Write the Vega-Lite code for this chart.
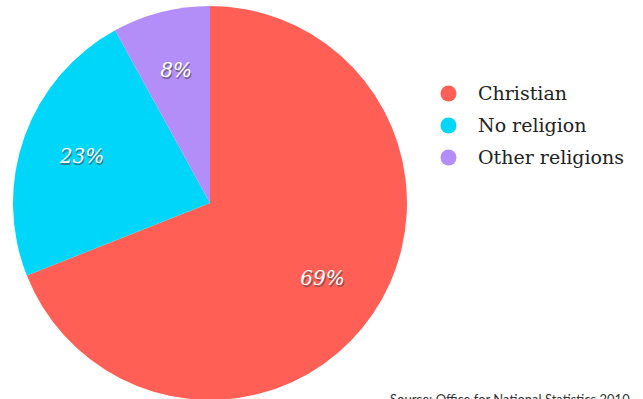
{
  "$schema": "https://vega.github.io/schema/vega-lite/v6.json",
  "width": 420,
  "height": 406,
  "padding": 0,
  "background": "white",
  "view": {"stroke": null},
  "title": {
    "text": "Source: Office for National Statistics 2010",
    "orient": "bottom",
    "anchor": "start",
    "dx": 390,
    "offset": -12,
    "font": "Lato",
    "fontSize": 13,
    "fontWeight": "normal",
    "color": "#333"
  },
  "data": {
    "values": [
      {"religion": "Christian", "share": 69, "label": "69%"},
      {"religion": "No religion", "share": 23, "label": "23%"},
      {"religion": "Other religions", "share": 8, "label": "8%"}
    ]
  },
  "encoding": {
    "theta": {"field": "share", "type": "quantitative", "stack": true},
    "order": {"field": "share", "type": "quantitative", "sort": "descending"}
  },
  "layer": [
    {
      "mark": {"type": "arc", "outerRadius": 197},
      "encoding": {
        "color": {
          "field": "religion",
          "type": "nominal",
          "scale": {
            "domain": ["Christian", "No religion", "Other religions"],
            "range": ["#FF5F55", "#00D5FA", "#B48EF8"]
          },
          "legend": {
            "title": null,
            "orient": "none",
            "legendX": 439,
            "legendY": 84,
            "symbolType": "circle",
            "symbolSize": 256,
            "symbolStrokeWidth": 0,
            "labelFont": "DejaVu Serif",
            "labelFontSize": 19,
            "labelColor": "#222",
            "labelOffset": 20,
            "rowPadding": 12,
            "labelLimit": 300
          }
        }
      }
    },
    {
      "mark": {"type": "text", "radius": 136, "font": "DejaVu Serif", "fontStyle": "italic", "fontSize": 20, "fill": "#444", "opacity": 0.6, "dx": 1, "dy": 2},
      "encoding": {"text": {"field": "label"}}
    },
    {
      "mark": {"type": "text", "radius": 136, "font": "DejaVu Serif", "fontStyle": "italic", "fontSize": 20, "fill": "white"},
      "encoding": {"text": {"field": "label"}}
    }
  ]
}
